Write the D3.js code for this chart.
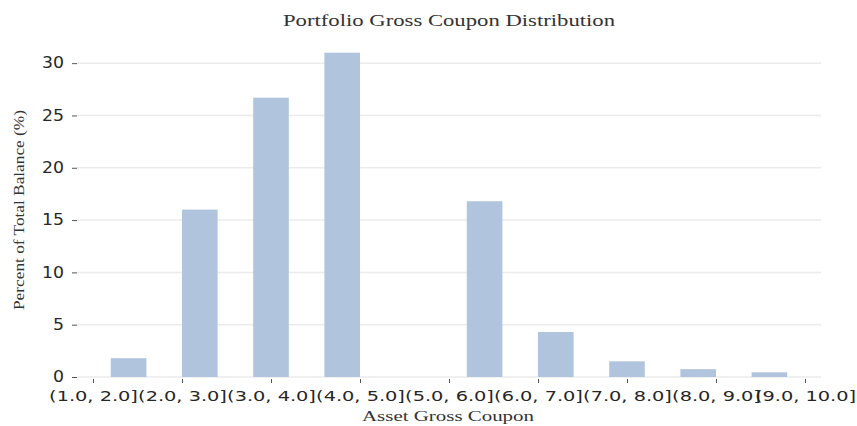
<!DOCTYPE html>
<html>
<head>
  <meta charset="utf-8">
  <script src="https://d3js.org/d3.v7.min.js"></script>
  <style>
    body { margin: 0; background: white; }
    svg { display: block; }
  </style>
</head>
<body>
<svg id="chart" width="857" height="426"></svg>
<script>
  // bar slots (10 of them, the 5th is empty) and tick labels (9 of them)
  var bins = ["1", "2", "3", "4", "5", "6", "7", "8", "9", "10"];
  var values = [1.8, 16.0, 26.7, 31.0, 0, 16.8, 4.3, 1.5, 0.75, 0.45];
  var tickLabels = ["(1.0, 2.0]", "(2.0, 3.0]", "(3.0, 4.0]", "(4.0, 5.0]", "(5.0, 6.0]",
                    "(6.0, 7.0]", "(7.0, 8.0]", "(8.0, 9.0]", "(9.0, 10.0]"];
  var yTicks = [0, 5, 10, 15, 20, 25, 30];

  var svg = d3.select("#chart");
  var stretch = 1.38;

  var x = d3.scaleBand(bins, [93, 805]).paddingInner(0.5).paddingOuter(0.25);
  var xt = d3.scalePoint(tickLabels, [93, 805]);
  var y = d3.scaleLinear([0, 32.5], [377, 37]);

  // grid
  svg.append("g")
    .selectAll("line")
    .data(yTicks)
    .join("line")
    .attr("x1", 77).attr("x2", 821)
    .attr("y1", d => y(d)).attr("y2", d => y(d))
    .attr("stroke", "#ebebeb")
    .attr("stroke-width", 1.5);

  // bars
  svg.append("g")
    .selectAll("rect")
    .data(values)
    .join("rect")
    .attr("x", (d, i) => x(bins[i]))
    .attr("width", x.bandwidth())
    .attr("y", d => y(d))
    .attr("height", d => y(0) - y(d))
    .attr("fill", "#b0c4de");

  // y axis
  var yAxis = svg.append("g")
    .attr("transform", "translate(77,0)")
    .call(d3.axisLeft(y).tickValues(yTicks).tickSize(5).tickPadding(8));
  yAxis.select(".domain").remove();
  yAxis.selectAll(".tick line").attr("stroke", "#555");
  yAxis.selectAll(".tick text")
    .attr("fill", "#262626")
    .style("font-family", "DejaVu Sans")
    .style("font-size", "15px")
    .each(function () {
      var w = this.getComputedTextLength();
      d3.select(this).attr("textLength", w * 1.15).attr("lengthAdjust", "spacingAndGlyphs");
    });

  // x axis
  var xAxis = svg.append("g")
    .attr("transform", "translate(0,377)")
    .call(d3.axisBottom(xt).tickSize(5).tickPadding(9));
  xAxis.select(".domain").remove();
  xAxis.selectAll(".tick line").attr("stroke", "#555").attr("y1", 2).attr("y2", 6);
  xAxis.selectAll(".tick text")
    .attr("fill", "#262626")
    .style("font-family", "DejaVu Sans")
    .style("font-size", "14px")
    .each(function () {
      var w = this.getComputedTextLength();
      d3.select(this).attr("textLength", w * stretch).attr("lengthAdjust", "spacingAndGlyphs");
    });

  // title and axis labels
  svg.append("text")
    .attr("x", 449).attr("y", 26)
    .attr("text-anchor", "middle")
    .attr("textLength", 332).attr("lengthAdjust", "spacingAndGlyphs")
    .style("font-family", "Liberation Serif")
    .style("font-size", "17px")
    .attr("fill", "#333")
    .text("Portfolio Gross Coupon Distribution");

  svg.append("text")
    .attr("x", 448).attr("y", 421)
    .attr("text-anchor", "middle")
    .attr("textLength", 172).attr("lengthAdjust", "spacingAndGlyphs")
    .style("font-family", "Liberation Serif")
    .style("font-size", "14px")
    .attr("fill", "#333")
    .text("Asset Gross Coupon");

  svg.append("text")
    .attr("transform", "translate(24,210) rotate(-90)")
    .attr("text-anchor", "middle")
    .attr("textLength", 200).attr("lengthAdjust", "spacingAndGlyphs")
    .style("font-family", "Liberation Serif")
    .style("font-size", "14px")
    .attr("fill", "#333")
    .text("Percent of Total Balance (%)");
</script>
</body>
</html>
